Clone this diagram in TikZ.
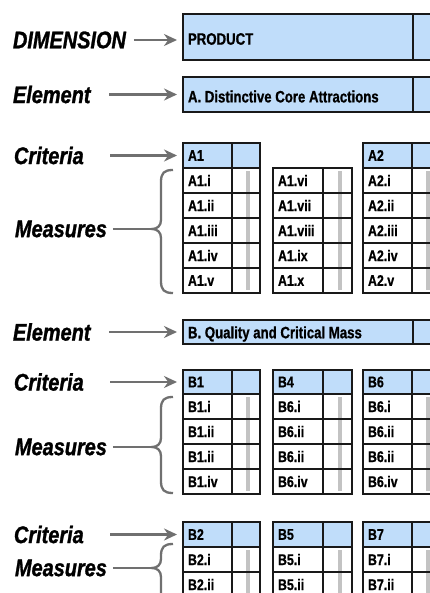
\documentclass[tikz,border=0pt]{standalone}
\usepackage{fontspec}
\usetikzlibrary{arrows.meta}
\newfontfamily\labfont{Liberation Sans}[FakeStretch=0.83, FakeBold=1.2]
\newfontfamily\boxfont{Liberation Sans}[FakeStretch=0.8, FakeBold=0.8]
\definecolor{hdrblue}{RGB}{192,221,250}
\definecolor{ptrgray}{RGB}{112,112,112}
\definecolor{barfill}{RGB}{195,195,195}
\definecolor{rule}{RGB}{25,25,25}

\tikzset{
  every node/.style={outer sep=0pt},
  cellframe/.style={draw=rule, line width=1.2pt, inner sep=0pt, anchor=north west},
  hdr/.style={cellframe, fill=hdrblue},
  celltext/.style={anchor=west, inner sep=0pt, xshift=5pt, text=black,
    font=\boxfont\bfseries\fontsize{15.5}{15.5}\selectfont},
  bigtext/.style={celltext, yshift=-2pt, font=\boxfont\bfseries\fontsize{16.5}{16.5}\selectfont},
  sidelabel/.style={inner sep=0pt, anchor=west, text=black,
    font=\labfont\bfseries\itshape\fontsize{24}{24}\selectfont},
  fixedlabel/.style={sidelabel, text width=90pt, align=left},
  ptr/.style={draw=ptrgray, line width=2.6pt, -{Stealth[length=13pt,width=12pt]},
    shorten <=6pt, shorten >=6pt},
  bracket/.style={draw=ptrgray, line width=2.3pt},
  measline/.style={draw=ptrgray, line width=2.3pt, shorten <=6pt},
}

% header row of a criteria table: id, x, y, height, text, left width, right width
\newcommand\critrow[7]{%
  \node[hdr, minimum width=#6pt, minimum height=#4pt, label={[celltext]west:#5}] (#1h) at (#2,#3) {};
  \node[hdr, minimum width=#7pt, minimum height=#4pt] (#1x) at (#1h.north east) {};
}
% measure rows of a table: id, x, y, left width, right width, labels
\newcommand\measrows[6]{%
  \foreach \t [count=\k] in {#6} {\xdef\nrows{\k}}
  \fill[barfill] ({#2+#4+0.57*#5-2},{#3+3}) rectangle ++(4,{25*\nrows-6});
  \foreach \t [count=\k] in {#6} {
    \node[cellframe, minimum width=#4pt, minimum height=25pt, label={[celltext]west:\t}]
      (#1r\k) at (#2,{#3+25*(\k-1)}) {};
    \node[cellframe, minimum width=#5pt, minimum height=25pt] (#1s\k) at (#1r\k.north east) {};
  }
}
% curly brace: top, cusp, bottom
\newcommand\curlybrace[3]{%
  \draw[bracket] (173,#1) .. controls (164,#1) and (161,#1+3) .. (161,#1+12)
    -- (161,#2-9) .. controls (161,#2-3) and (157,#2) .. (152,#2)
    .. controls (157,#2) and (161,#2+3) .. (161,#2+9)
    -- (161,#3-12) .. controls (161,#3-3) and (164,#3) .. (173,#3);
}

\begin{document}
\begin{tikzpicture}[x=1pt, y=-1pt]
\fill[white] (0,0) rectangle (430,593);
\useasboundingbox (0,0) rectangle (430,593);
\clip (0,0) rectangle (430,593);

% dimension
\node[hdr, minimum width=230pt, minimum height=46pt, label={[bigtext]west:PRODUCT}] (prod) at (183,14) {};
\node[hdr, minimum width=27pt, minimum height=46pt] (prodx) at (prod.north east) {};
\node[sidelabel] (dimL) at (13,40) {DIMENSION};
\draw[ptr, shorten <=8pt] (dimL.east) -- (dimL.east -| prod.west);

% element A
\node[hdr, minimum width=230pt, minimum height=35pt, label={[bigtext]west:A. Distinctive Core Attractions}] (elA) at (183,77) {};
\node[hdr, minimum width=27pt, minimum height=35pt] (elAx) at (elA.north east) {};
\node[fixedlabel] (elAL) at (13,94.5) {Element};
\draw[ptr] (elAL.east) -- (elA.west);

% criteria A
\critrow{A1}{183}{143}{25}{A1}{49}{28}
\critrow{A2}{363}{143}{25}{A2}{49}{28}
\measrows{A1}{183}{168}{49}{28}{A1.i,A1.ii,A1.iii,A1.iv,A1.v}
\measrows{A6}{273}{168}{50}{29}{A1.vi,A1.vii,A1.viii,A1.ix,A1.x}
\measrows{A2}{363}{168}{49}{28}{A2.i,A2.ii,A2.iii,A2.iv,A2.v}
\node[fixedlabel] (critAL) at (14,155.5) {Criteria};
\draw[ptr] (critAL.east) -- (A1h.west);
\curlybrace{170}{229}{293}
\coordinate (cuspA) at (152,229);
\node[sidelabel] (measAL) at (15,229) {Measures};
\draw[measline] (measAL.east) -- (cuspA);

% element B
\node[hdr, minimum width=230pt, minimum height=24pt, label={[bigtext]west:B. Quality and Critical Mass}] (elB) at (183,320) {};
\node[hdr, minimum width=27pt, minimum height=24pt] (elBx) at (elB.north east) {};
\node[fixedlabel] (elBL) at (13,332) {Element};
\draw[ptr] (elBL.east) -- (elB.west);

% criteria B, first band
\critrow{B1}{183}{370}{24}{B1}{49}{28}
\critrow{B4}{273}{370}{24}{B4}{50}{29}
\critrow{B6}{363}{370}{24}{B6}{49}{28}
\measrows{B1}{183}{394}{49}{28}{B1.i,B1.ii,B1.ii,B1.iv}
\measrows{B4}{273}{394}{50}{29}{B6.i,B6.ii,B6.ii,B6.iv}
\measrows{B6}{363}{394}{49}{28}{B6.i,B6.ii,B6.ii,B6.iv}
\node[fixedlabel] (critB1L) at (14,382) {Criteria};
\draw[ptr] (critB1L.east) -- (B1h.west);
\curlybrace{397}{447}{493}
\coordinate (cuspB1) at (152,447);
\node[sidelabel] (measB1L) at (15,447) {Measures};
\draw[measline] (measB1L.east) -- (cuspB1);

% criteria B, second band
\critrow{B2}{183}{522}{25}{B2}{49}{28}
\critrow{B5}{273}{522}{25}{B5}{50}{29}
\critrow{B7}{363}{522}{25}{B7}{49}{28}
\measrows{B2}{183}{547}{49}{28}{B2.i,B2.ii}
\measrows{B5}{273}{547}{50}{29}{B5.i,B5.ii}
\measrows{B7}{363}{547}{49}{28}{B7.i,B7.ii}
\node[fixedlabel] (critB2L) at (14,534.5) {Criteria};
\draw[ptr] (critB2L.east) -- (B2h.west);
\curlybrace{544}{568}{620}
\coordinate (cuspB2) at (152,568);
\node[sidelabel] (measB2L) at (15,568) {Measures};
\draw[measline] (measB2L.east) -- (cuspB2);
\end{tikzpicture}
\end{document}
